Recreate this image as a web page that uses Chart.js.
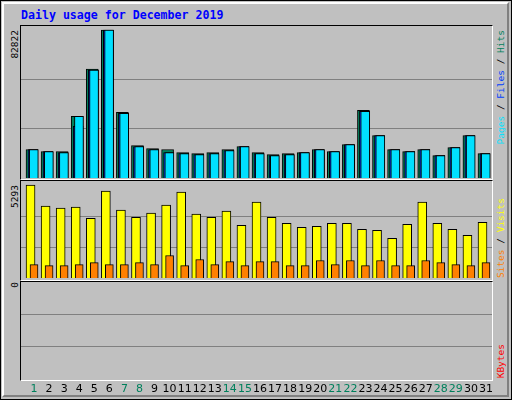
<!DOCTYPE html>
<html><head><meta charset="utf-8">
<script src="https://cdn.jsdelivr.net/npm/chart.js@4"></script>
<style>
body{margin:0;background:#c0c0c0;}
#wrap{position:absolute;left:0;top:0;width:510px;height:398px;border:1px solid #000;background:#c0c0c0;overflow:hidden;}
#bev{position:absolute;left:1px;top:1px;width:503px;height:391px;border-top:2px solid #fff;border-left:2px solid #fff;border-right:2px solid #808080;border-bottom:2px solid #808080;}
.panel{position:absolute;left:19px;width:471px;border:1px solid #000;border-bottom:1px solid #fff;border-right:1px solid #fff;}
canvas{position:absolute;}
.v{position:absolute;writing-mode:vertical-rl;transform:rotate(180deg);font-family:"DejaVu Sans Mono",monospace;font-size:9.5px;white-space:nowrap;line-height:10px;}
#title{position:absolute;left:20px;top:7px;font-family:"DejaVu Sans Mono",monospace;font-weight:bold;font-size:11.6px;color:#0000ff;}
</style></head><body>
<div id="wrap"><div id="bev"></div>
<div id="title">Daily usage for December 2019</div>
<div class="panel" style="top:24px;height:153px"></div>
<div class="panel" style="top:179px;height:99px"></div>
<div class="panel" style="top:280px;height:98px"></div>
<canvas id="c1" style="left:20px;top:25px"></canvas>
<canvas id="c2" style="left:20px;top:180px"></canvas>
<canvas id="c3" style="left:20px;top:281px"></canvas>
<div class="v" style="left:9px;top:29px;color:#000">82822</div>
<div class="v" style="left:9px;top:184px;color:#000">5293</div>
<div class="v" style="left:9px;top:281px;color:#000">0</div>
<div class="v" style="left:495px;top:29px"><span style="color:#00e0ff">Pages</span><span style="color:#000"> / </span><span style="color:#0040ff">Files</span><span style="color:#000"> / </span><span style="color:#00805c">Hits</span></div>
<div class="v" style="left:495px;bottom:121px"><span style="color:#ff8000">Sites</span><span style="color:#000"> / </span><span style="color:#ffff00">Visits</span></div>
<div class="v" style="left:495px;bottom:21px;color:#ff0000">KBytes</div>
</div>
<script>
const days=[1,2,3,4,5,6,7,8,9,10,11,12,13,14,15,16,17,18,19,20,21,22,23,24,25,26,27,28,29,30,31];
const weekend=[1,7,8,14,15,21,22,28,29];
const hits=[15929,14805,14805,34482,60905,82822,36730,18178,16491,15929,14242,13680,14242,15929,17616,14242,13118,13680,14242,15929,14805,18740,37855,23800,15929,14805,15929,12556,17053,23800,13680];
const files=[15929,14805,14242,28860,60343,82822,36168,17616,15929,14242,13680,13118,13680,15367,17616,13680,12556,13118,14242,15929,14805,18740,37293,23800,15929,14805,15929,12556,17053,23800,13680];
const pages=[15929,14805,14242,34482,60343,82822,36168,17616,15929,14242,13680,13118,13680,15367,17616,13680,12556,13118,14242,15929,14805,18740,37293,23800,15929,14805,15929,12556,17053,23800,13680];
const visits=[5293,4089,3975,4032,3401,4949,3860,3459,3688,4147,4892,3631,3459,3803,3000,4319,3459,3115,2886,2943,3115,3115,2771,2714,2255,3058,4319,3115,2771,2427,3172];
const sites=[764,707,707,764,879,764,764,879,764,1280,707,1051,764,936,707,936,936,707,707,994,764,994,707,994,707,707,994,879,764,707,879];
const maxHits=82822, maxVisits=5293;

function ds(vals,off,color,w,order){
  return {data:days.map((d,i)=>({x:d+off,y:vals[i]})),backgroundColor:color,borderColor:'#000',borderWidth:1,barThickness:w,order:order,grouped:false,borderSkipped:'bottom'};
}
function opts(max,topPx,h,extra){
  return {responsive:false,animation:false,events:[],layout:{padding:{bottom:extra||0}},
    plugins:{legend:{display:false},tooltip:{enabled:false}},
    scales:{x:{type:'linear',offset:false,min:0.137,max:31.4,display:false},
      y:{min:0,max:max*h/(h-topPx),border:{display:false},ticks:{display:false},grid:{color:'#808080',drawTicks:false,lineWidth:1},
        afterBuildTicks:s=>{s.ticks=[{value:max/3},{value:2*max/3}];}}}};
}
function mk(id,w,h){const c=document.getElementById(id);c.width=w;c.height=h;c.style.width=w+'px';c.style.height=h+'px';return c;}
new Chart(mk('c1',471,152),{type:'bar',data:{datasets:[
  ds(hits,-0.133,'#00805c',12,3),ds(files,-0.066,'#0040ff',10,2),ds(pages,-0.015,'#00e0ff',9,1)]},options:opts(maxHits,4,152)});
new Chart(mk('c2',471,97),{type:'bar',data:{datasets:[
  ds(visits,-0.23,'#ffff00',9,2),ds(sites,0,'#ff8000',8,1)]},options:opts(maxVisits,4,97)});
const labelPlugin={id:'lbl',afterDraw(ch){const c=ch.ctx,x=ch.scales.x;c.save();c.font='11px "DejaVu Sans"';c.textAlign='center';c.textBaseline='top';
  days.forEach(d=>{c.fillStyle=weekend.includes(d)?'#00805c':'#000';c.fillText(String(d),x.getPixelForValue(d),ch.chartArea.bottom+5);});c.restore();}};
new Chart(mk('c3',471,117),{type:'bar',data:{datasets:[]},options:opts(maxVisits,0,97,20),plugins:[labelPlugin]});
</script></body></html>
